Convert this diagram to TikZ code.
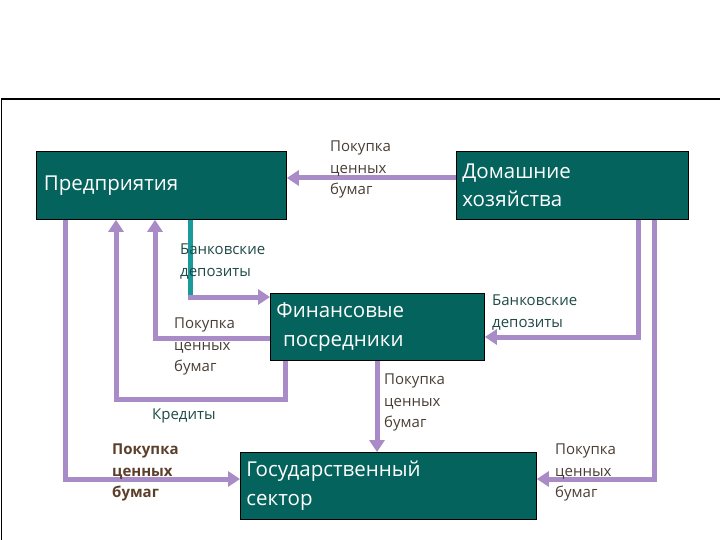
\documentclass[tikz,border=0pt]{standalone}
\usepackage{fontspec}
\setmainfont{Open Sans}
\usetikzlibrary{arrows.meta,calc}
\definecolor{boxfill}{HTML}{04635C}
\definecolor{flow}{HTML}{A98BC7}
\definecolor{tealline}{HTML}{1B9A9C}
\definecolor{lblbrown}{HTML}{4A3E34}
\definecolor{lblbold}{HTML}{5B3F2A}
\definecolor{lblteal}{HTML}{1F4A45}
\tikzset{
  box/.style={draw=black, line width=0.8pt, fill=boxfill, text=white, align=left,
    font=\fontsize{20.5}{28.5}\selectfont, inner xsep=0pt, inner ysep=0pt, anchor=north west},
  arr/.style={draw=flow, line width=5pt, line join=miter, -{Triangle[width=15pt,length=12pt]}},
  tline/.style={draw=tealline, line width=5pt},
  lbl/.style={align=left, anchor=north west, inner sep=0pt, text=lblbrown,
    font=\fontsize{15}{21.5}\selectfont},
  lblb/.style={lbl, text=lblbold, font=\bfseries\fontsize{15}{21.5}\selectfont},
  lblt/.style={lbl, text=lblteal}
}
\begin{document}
\begin{tikzpicture}[x=1pt,y=-1pt]
\useasboundingbox (0,0) rectangle (720,540);
% frame
\draw[line width=1.5pt] (720,99) -- (1.5,99) -- (1.5,540);
% boxes
\node[box, minimum width=250pt, minimum height=68pt, text width=245pt] (pred) at (36,151) {\hspace*{5pt}Предприятия};
\node[box, minimum width=232pt, minimum height=68pt, text width=228pt] (hh) at (456,151) {\hspace*{4pt}Домашние\\\hspace*{4pt}хозяйства};
\node[box, minimum width=214pt, minimum height=67pt, text width=210pt] (fin) at (270,293) {\hspace*{4pt}Финансовые\\\hspace*{4pt} посредники};
\node[box, minimum width=296pt, minimum height=67pt, text width=292pt] (gov) at (240,452) {\hspace*{4pt}Государственный\\\hspace*{4pt}сектор};
% coordinates
\coordinate (p1) at (0,178);
\coordinate (t1) at (190,297);
\coordinate (p3) at (155,338);
\coordinate (p4a) at (285,399);
\coordinate (p4b) at (116,399);
\coordinate (p5) at (65,479);
\coordinate (p6) at (638,337);
\coordinate (p7) at (654,479);
\coordinate (p8) at (377,0);
% connectors
\draw[arr] (hh.west |- p1) -- (pred.east |- p1);
\draw[tline] (pred.south -| t1) -- (t1);
\draw[arr] ([xshift=-2.5pt]t1) -- (t1 -| fin.west);
\draw[arr] (p3 -| fin.west) -- (p3) -- (p3 |- pred.south);
\draw[arr] (p4a |- fin.south) -- (p4a) -- (p4b) -- (p4b |- pred.south);
\draw[arr] (p5 |- pred.south) -- (p5) -- (p5 -| gov.west);
\draw[arr] (p6 |- hh.south) -- (p6) -- (p6 -| fin.east);
\draw[arr] (p7 |- hh.south) -- (p7) -- (p7 -| gov.east);
\draw[arr] (p8 |- fin.south) -- (p8 |- gov.north);
% labels
\node[lbl] (l1) at (330,141) {Покупка\\ценных\\бумаг};
\node[lblt] (l2) at (180,244) {Банковские\\депозиты};
\node[lbl] (l3) at (174,318) {Покупка\\ценных\\бумаг};
\node[lblt] (l4) at (152,409) {Кредиты};
\node[lblb] (l5) at (112,444) {Покупка\\ценных\\бумаг};
\node[lblt] (l6) at (492,295) {Банковские\\депозиты};
\node[lbl] (l7) at (384,374) {Покупка\\ценных\\бумаг};
\node[lbl] (l8) at (555,444) {Покупка\\ценных\\бумаг};
\end{tikzpicture}
\end{document}
